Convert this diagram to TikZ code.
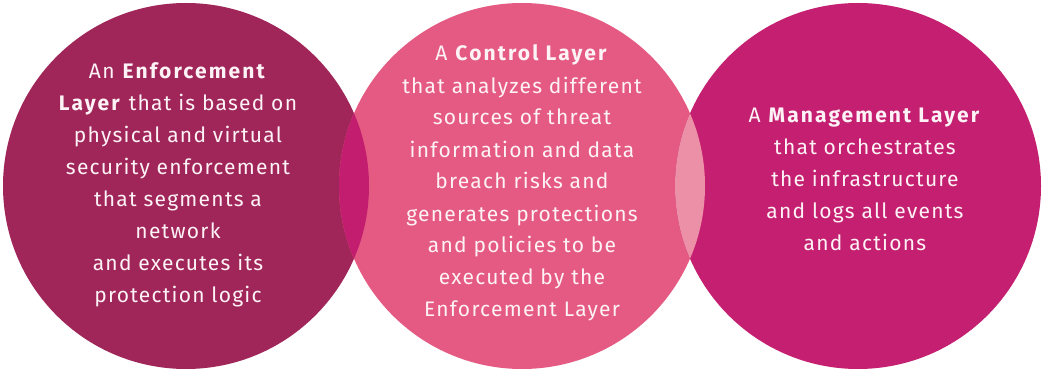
\documentclass[tikz,border=0pt]{standalone}
\usepackage{fontspec}
\setmainfont{Fira Sans}[LetterSpace=6,BoldFeatures={LetterSpace=10}]
\definecolor{cLeft}{HTML}{A0265A}
\definecolor{cMid}{HTML}{E55A83}
\definecolor{cRight}{HTML}{C41F70}
\definecolor{cOvA}{HTML}{C21D6E}
\definecolor{cOvB}{HTML}{EC90A8}
\definecolor{txt}{HTML}{FDF2F5}
\begin{document}
\begin{tikzpicture}[x=1pt,y=-1pt,
  layertext/.style={text=txt,align=center,inner sep=0pt,
    font=\fontsize{21}{32}\selectfont,anchor=base}]
\useasboundingbox (0,0) rectangle (1042,371);
\fill[white] (0,0) rectangle (1042,371);
\fill[cLeft] (186,186) circle (183);
\fill[cMid] (522,186) circle (183);
\fill[cRight] (858,186) circle (183);
\begin{scope}
  \clip (186,186) circle (183);
  \fill[cOvA] (522,186) circle (183);
\end{scope}
\begin{scope}
  \clip (522,186) circle (183);
  \fill[cOvB] (858,186) circle (183);
\end{scope}
\node[layertext] (enf) at (178,303) {An \textbf{Enforcement}\\ \textbf{Layer} that is based on\\ physical and virtual\\ security enforcement\\ that segments a\\ network\\ and executes its\\ protection logic};
\node[layertext] (ctl) at (522,317) {A \textbf{Control Layer}\\ that analyzes different\\ sources of threat\\ information and data\\ breach risks and\\ generates protections\\ and policies to be\\ executed by the\\ Enforcement Layer};
\node[layertext] (mgt) at (865,251) {A \textbf{Management Layer}\\ that orchestrates\\ the infrastructure\\ and logs all events\\ and actions};
\end{tikzpicture}
\end{document}
